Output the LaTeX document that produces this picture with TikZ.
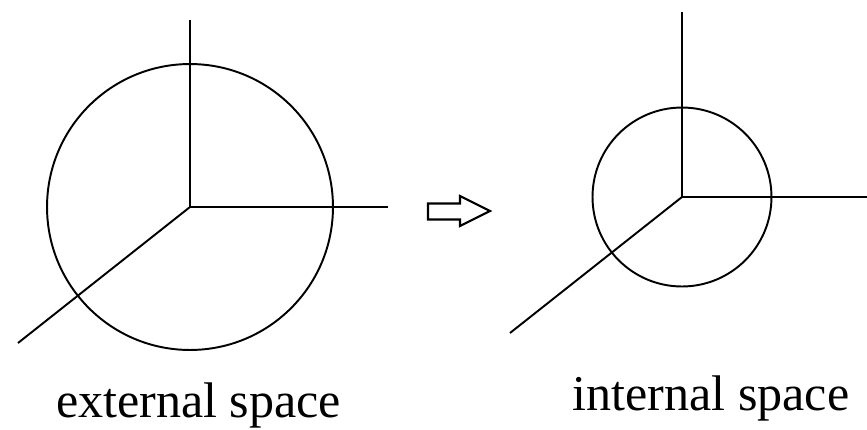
\documentclass[tikz,border=0pt]{standalone}
\usepackage{fontspec}
\setmainfont{Liberation Serif}
\begin{document}
\begin{tikzpicture}[x=0.02cm, y=-0.02cm, line width=1.1pt]
            \useasboundingbox (0,0) rectangle (867,430);
            % Left axes and big sphere
            \coordinate (Lorigin) at (190,207);
            \coordinate (Ltop) at (190,20);
            \coordinate (Lright) at (388,207);
            \coordinate (Ldiag) at (18,343);
            \draw (Lorigin) -- (Ltop);
            \draw (Lorigin) -- (Lright);
            \draw (Lorigin) -- (Ldiag);
            \draw (Lorigin) circle (2.86cm);

            % Right axes and small sphere
            \coordinate (Rorigin) at (682,197);
            \coordinate (Rtop) at (682,12);
            \coordinate (Rright) at (867,197);
            \coordinate (Rdiag) at (510,333);
            \draw (Rorigin) -- (Rtop);
            \draw (Rorigin) -- (Rright);
            \draw (Rorigin) -- (Rdiag);
            \draw (Rorigin) circle (1.79cm);

            % Hollow arrow between them
            \draw[line width=1.2pt, line join=miter] (428,203.5) -- (460,203.5) -- (460,196) -- (490,211)
                -- (460,226) -- (460,219.5) -- (428,219.5) -- cycle;

            % Labels
            \node[anchor=base, font=\fontsize{28.5}{32}\selectfont] (external) at (198.5,417) {external space};
            \node[anchor=base, font=\fontsize{28.5}{32}\selectfont] (internal) at (711,410) {internal space};
        \end{tikzpicture}
\end{document}
